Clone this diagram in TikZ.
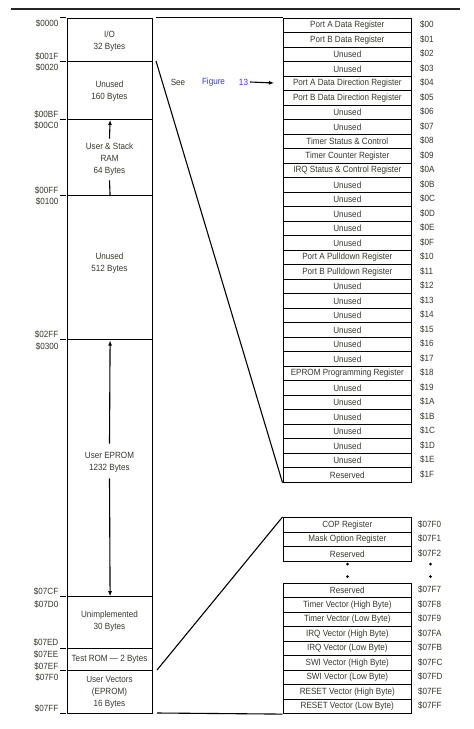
\documentclass[tikz,border=0pt]{standalone}
\usepackage{fontspec}
\newfontfamily\fnt[FakeStretch=0.9]{Liberation Sans}
\usetikzlibrary{arrows.meta}
\definecolor{txt}{RGB}{55,55,45}
\definecolor{figblue}{RGB}{50,50,255}
\begin{document}
\begin{tikzpicture}[x=1pt,y=-1pt,
  every node/.style={font=\fnt\fontsize{9}{12}\selectfont, text=txt, inner sep=0pt},
  cell/.style={draw, line width=1.1pt, minimum width=128.5pt, minimum height=14.5pt, anchor=north west},
  region/.style={draw, line width=1.2pt, minimum width=85pt, anchor=north west},
  rtext/.style={align=center},
  addr/.style={anchor=east},
  raddr/.style={anchor=west},
  tick/.style={line width=1pt},
  conn/.style={line width=1.1pt},
  arr/.style={line width=1.1pt, -{Latex[length=5pt,width=4pt]}},
  dot/.style={circle, fill=black, minimum size=3pt, inner sep=0pt}
]
\useasboundingbox (0,0) rectangle (474,729);
% top rule
\draw[line width=1.3pt, black!85] (11,9) -- (460,9);

% left memory map regions
\node[region, minimum height=43.5pt] (io) at (67,17.5) {};
\node[region, minimum height=58pt] (un1) at (67,61) {};
\node[region, minimum height=76pt] (ram) at (67,119) {};
\node[region, minimum height=144pt] (un2) at (67,195) {};
\node[region, minimum height=257pt] (eprom) at (67,339) {};
\node[region, minimum height=52pt] (unimp) at (67,596) {};
\node[region, minimum height=22pt] (trom) at (67,648) {};
\node[region, minimum height=43pt] (vec) at (67,670) {};

\node[rtext] (iot) at (109.5,41) {I/O\\32 Bytes};
\node[rtext] (un1t) at (109.5,91.5) {Unused\\160 Bytes};
\node[rtext] (ramt) at (109.5,159) {User \& Stack\\RAM\\64 Bytes};
\node[rtext] (un2t) at (109.5,263) {Unused\\512 Bytes};
\node[rtext] (epromt) at (109.5,462) {User EPROM\\1232 Bytes};
\node[rtext] (unimpt) at (109.5,621.5) {Unimplemented\\30 Bytes};
\node[rtext] (tromt) at (109.5,659.5) {Test ROM — 2 Bytes};
\node[rtext] (vect) at (109.5,692.5) {User Vectors\\(EPROM)\\16 Bytes};

% arrows inside regions
\draw[arr] ([yshift=4pt]ramt.north) -- ([yshift=-1pt]ram.north);
\draw[line width=1.1pt] ([yshift=-5pt]ramt.south) -- (ram.south);
\draw[arr] ([yshift=8pt]epromt.north) -- ([yshift=-1.5pt]eprom.north);
\draw[arr] ([yshift=-6pt]epromt.south) -- ([yshift=1pt]eprom.south);

% address ticks and labels on the left
\foreach \y in {17.5,61,119,195,339,596,648,670,713}
  \draw[tick] (60,\y) -- (65.5,\y);
\node[addr] (l0000) at (58.5,23) {\$0000};
\node[addr] (l001F) at (58.5,56.5) {\$001F};
\node[addr] (l0020) at (58.5,67) {\$0020};
\node[addr] (l00BF) at (58.5,114) {\$00BF};
\node[addr] (l00C0) at (58.5,125) {\$00C0};
\node[addr] (l00FF) at (58.5,190) {\$00FF};
\node[addr] (l0100) at (58.5,201) {\$0100};
\node[addr] (l02FF) at (58.5,334) {\$02FF};
\node[addr] (l0300) at (58.5,346) {\$0300};
\node[addr] (l07CF) at (58.5,591.5) {\$07CF};
\node[addr] (l07D0) at (58.5,604) {\$07D0};
\node[addr] (l07ED) at (58.5,642) {\$07ED};
\node[addr] (l07EE) at (58.5,654) {\$07EE};
\node[addr] (l07EF) at (58.5,666) {\$07EF};
\node[addr] (l07F0) at (58.5,677) {\$07F0};
\node[addr] (l07FF) at (58.5,708) {\$07FF};

% upper register table
\foreach \t/\a [count=\i from 0] in {Port A Data Register/00, Port B Data Register/01,
  Unused/02, Unused/03, Port A Data Direction Register/04, Port B Data Direction Register/05,
  Unused/06, Unused/07, Timer Status \& Control/08, Timer Counter Register/09,
  IRQ Status \& Control Register/0A, Unused/0B, Unused/0C, Unused/0D, Unused/0E, Unused/0F,
  Port A Pulldown Register/10, Port B Pulldown Register/11, Unused/12, Unused/13, Unused/14,
  Unused/15, Unused/16, Unused/17, EPROM Programming Register/18, Unused/19, Unused/1A,
  Unused/1B, Unused/1C, Unused/1D, Unused/1E, Reserved/1F} {
  \node[cell] (r\i) at (282.5,{17.5+14.5*\i}) {\t};
  \node[raddr] (a\i) at (420,{24.75+14.5*\i}) {\$\a};
}

% lower register table, first block
\foreach \t/\a [count=\i from 0] in {COP Register/07F0, Mask Option Register/07F1, Reserved/07F2} {
  \node[cell] (v\i) at (282.5,{517+14.5*\i}) {\t};
  \node[raddr] (b\i) at (418,{524.25+14.5*\i}) {\$\a};
}
% second block
\foreach \t/\a [count=\i from 0] in {Reserved/07F7, Timer Vector (High Byte)/07F8,
  Timer Vector (Low Byte)/07F9, IRQ Vector (High Byte)/07FA, IRQ Vector (Low Byte)/07FB,
  SWI Vector (High Byte)/07FC, SWI Vector (Low Byte)/07FD, RESET Vector (High Byte)/07FE,
  RESET Vector (Low Byte)/07FF} {
  \node[cell] (w\i) at (282.5,{582.5+14.5*\i}) {\t};
  \node[raddr] (c\i) at (418,{589.75+14.5*\i}) {\$\a};
}
% ellipsis dots
\node[dot] (d1) at (347.5,564) {};
\node[dot] (d2) at (347.5,576.5) {};
\node[dot] (d3) at (430.5,564) {};
\node[dot] (d4) at (430.5,576.5) {};

% connectors between map and tables
\coordinate (p1) at (156,17.5);
\coordinate (p2) at (156,61);
\coordinate (p3) at (157,670);
\coordinate (p4) at (157,713);
\draw[conn] (p1) -- (r0.north west);
\draw[conn] (p2) -- (r31.south west);
\draw[conn] (p3) -- (v0.north west);
\draw[conn] (p4) -- (w8.south west);

% see figure 13
\node (see) at (178,82) {See};
\node[text=figblue] (figw) at (213.5,82) {Figure};
\node[text=figblue] (f13) at (243.5,82) {13};
\coordinate (ft) at (274,83);
\draw[arr] ([xshift=2pt]f13.east) -- (ft);
\end{tikzpicture}
\end{document}
